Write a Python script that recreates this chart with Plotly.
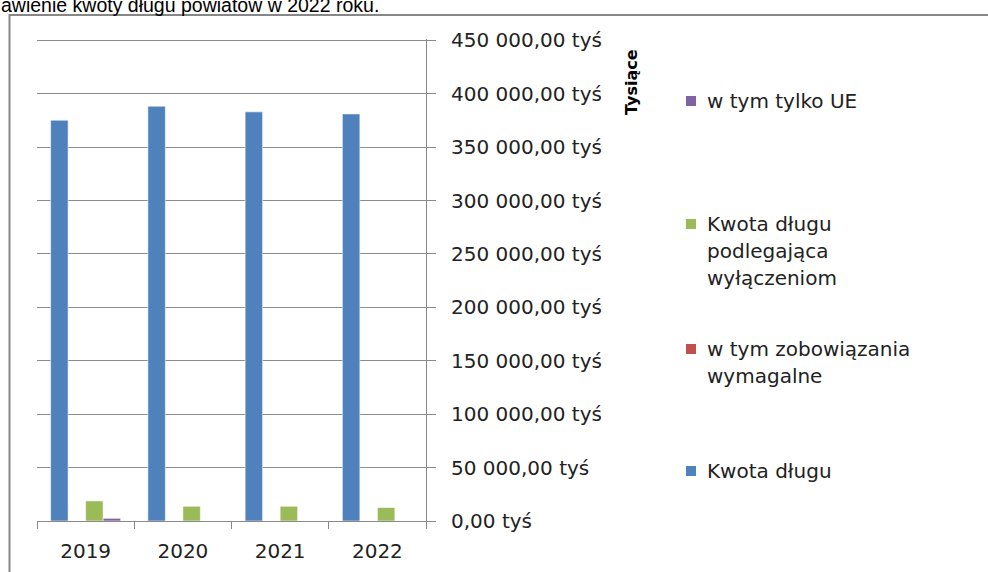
import plotly.graph_objects as go

W, H = 988, 572

years = ["2019", "2020", "2021", "2022"]
kwota_dlugu = [375200, 388300, 383000, 381100]
zobowiazania_wymagalne = [0, 0, 0, 0]
podlegajaca_wylaczeniom = [18800, 13800, 13800, 12600]
tylko_ue = [2500, 0, 0, 0]

series_names = [
    "Kwota długu",
    "w tym zobowiązania wymagalne",
    "Kwota długu podlegająca wyłączeniom",
    "w tym tylko UE",
]
series_values = [kwota_dlugu, zobowiazania_wymagalne, podlegajaca_wylaczeniom, tylko_ue]
colors = ["#4F81BD", "#C0504D", "#9BBB59", "#8064A2"]

tick_vals = [0, 50000, 100000, 150000, 200000, 250000, 300000, 350000, 400000, 450000]
tick_text = ["0,00 tyś", "50 000,00 tyś", "100 000,00 tyś", "150 000,00 tyś",
             "200 000,00 tyś", "250 000,00 tyś", "300 000,00 tyś", "350 000,00 tyś",
             "400 000,00 tyś", "450 000,00 tyś"]
y_max = 451000

# legend (drawn manually): label lines, top-down order
legend_items = [
    (["w tym tylko UE"], 101, "#8064A2"),
    (["Kwota długu", "podlegająca", "wyłączeniom"], 224, "#9BBB59"),
    (["w tym zobowiązania", "wymagalne"], 349, "#C0504D"),
    (["Kwota długu"], 471, "#4F81BD"),
]

title_text = "awienie kwoty długu powiatów w 2022 roku."

FONT = "'DejaVu Sans', sans-serif"
FS = 20

fig = go.Figure()
for name, vals, c in zip(series_names, series_values, colors):
    fig.add_trace(go.Bar(
        x=years, y=vals, name=name,
        marker=dict(color=c, line=dict(color="rgba(255,255,255,0.7)", width=0.8)),
        showlegend=False,
    ))

def px_x(p):
    return p / W

def px_y(p):
    return 1 - p / H

PX_PER_UNIT = (521 - 40.3) / 450000
top_px = 521 - y_max * PX_PER_UNIT

fig.update_layout(
    width=W, height=H,
    margin=dict(l=0, r=0, t=0, b=0, autoexpand=False),
    paper_bgcolor="white", plot_bgcolor="white",
    barmode="group", bargap=0.28, bargroupgap=0,
    font=dict(family=FONT, size=FS, color="#222222"),
    xaxis=dict(
        domain=[px_x(37), px_x(426)],
        type="category",
        showline=True, linecolor="#8a8a8a", linewidth=1,
        ticks="outside", tickson="boundaries", ticklen=7, tickcolor="#8a8a8a",
        ticklabelstandoff=12,
        showgrid=False, automargin=False,
        tickfont=dict(family=FONT, size=FS, color="#222222"),
    ),
    yaxis=dict(
        domain=[px_y(521), px_y(top_px)],
        range=[0, y_max],
        side="right",
        tickvals=tick_vals, ticktext=tick_text,
        showgrid=True, gridcolor="#8c8c8c", gridwidth=1,
        showline=True, linecolor="#8a8a8a", linewidth=1,
        ticks="outside", ticklen=9, tickcolor="#8a8a8a",
        ticklabelstandoff=11, automargin=False,
        zeroline=False,
        tickfont=dict(family=FONT, size=FS, color="#222222"),
    ),
)

shapes = []
annotations = []

# outer chart border
shapes.append(dict(type="rect", xref="paper", yref="paper",
                   x0=px_x(9.5), x1=px_x(995), y0=px_y(590), y1=px_y(15),
                   line=dict(color="#878787", width=2), fillcolor="rgba(0,0,0,0)",
                   layer="below"))

# cut-off title above the chart
annotations.append(dict(text=title_text, xref="paper", yref="paper",
                        x=px_x(-1), y=px_y(5), xanchor="left", yanchor="middle",
                        showarrow=False,
                        font=dict(family="Liberation Sans, Arial, sans-serif", size=19.5, color="#000000")))

# axis title
annotations.append(dict(text="<b>Tysiące</b>", xref="paper", yref="paper",
                        x=px_x(632), y=px_y(82), xanchor="center", yanchor="middle",
                        textangle=-90, showarrow=False,
                        font=dict(family=FONT, size=16, color="#000000")))

# manual legend
LH = 27
for lines, yc, col in legend_items:
    shapes.append(dict(type="rect", xref="paper", yref="paper",
                       x0=px_x(686), x1=px_x(696), y0=px_y(yc + 5), y1=px_y(yc - 5),
                       line=dict(width=0), fillcolor=col))
    for i, ln in enumerate(lines):
        annotations.append(dict(text=ln, xref="paper", yref="paper",
                                x=px_x(705), y=px_y(yc + i * LH), xanchor="left",
                                yanchor="middle", showarrow=False,
                                font=dict(family=FONT, size=FS, color="#222222")))

fig.update_layout(shapes=shapes, annotations=annotations)

fig.write_html("out.html", config={"displayModeBar": False},
               post_script="document.body.style.margin='0';")
